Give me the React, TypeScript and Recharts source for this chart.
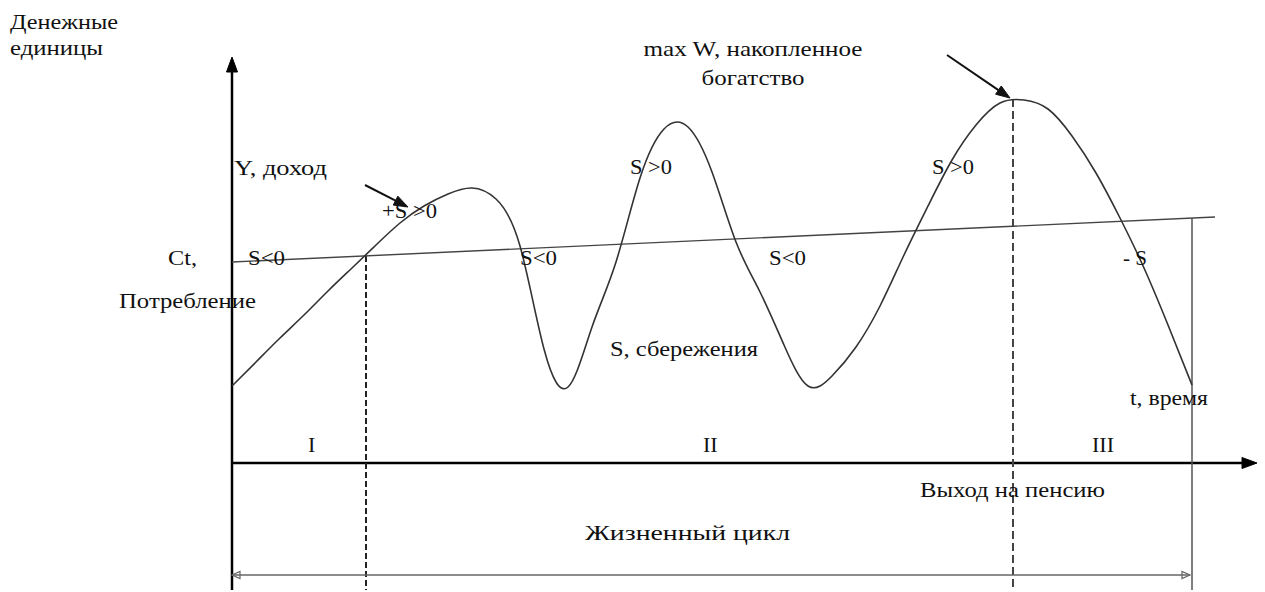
import React from "react";
import {
  ComposedChart,
  XAxis,
  YAxis,
  Line,
  Scatter,
  ReferenceLine,
} from "recharts";

// life-cycle income / consumption diagram (Modigliani)
// income Y every 24 time units
const incomeT = [0, 24, 48, 72, 96, 120, 144, 168, 192, 216, 240, 264, 288, 312, 336, 360, 384, 408, 432, 456, 480, 504, 528, 552, 576, 600, 624, 648, 672, 696, 720, 744, 768, 792, 816, 840, 864, 888, 912, 936, 960];
const incomeV = [77, 101, 125, 148, 172, 195, 218, 240, 257, 269, 275, 264, 217, 114, 76, 136, 201, 285, 334, 336, 291, 221, 171, 118, 77, 87, 116, 157, 208, 257, 303, 338, 360, 363, 354, 327, 290, 245, 195, 138, 78];

const consumptionT = [0, 983];
const consumptionV = [201, 246];

// key moments on the time axis
const tStart = 0;
const tWork = 134; // income crosses consumption
const tRetire = 781; // max wealth, retirement
const tEnd = 960;
const tAxisEnd = 1025;
const vAxisTop = 406;
const vBottom = -127;
const vCycle = -112;

const income = incomeT.map((t, i) => ({ t, v: incomeV[i] }));
const consumption = consumptionT.map((t, i) => ({ t, v: consumptionV[i] }));

type Note = { t: number; v: number; text: string; w?: number; anchor?: "start" | "middle" | "end" };

// w = printed width of the caption in the original
const notes: Note[] = [
  { t: -222, v: 434, text: "Денежные", w: 108 },
  { t: -222, v: 408, text: "единицы", w: 93 },
  { t: 521, v: 407, text: "max W, накопленное", w: 219, anchor: "middle" },
  { t: 521, v: 378, text: "богатство", w: 103, anchor: "middle" },
  { t: 2, v: 288, text: "Y, доход", w: 93 },
  { t: 150, v: 245, text: "+S >0", w: 55 },
  { t: 16, v: 198, text: "S<0", w: 37 },
  { t: -64, v: 198, text: "Ct,", w: 29 },
  { t: -113, v: 155, text: "Потребление", w: 137 },
  { t: 288, v: 198, text: "S<0", w: 37 },
  { t: 537, v: 198, text: "S<0", w: 37 },
  { t: 398, v: 289, text: "S >0", w: 42 },
  { t: 700, v: 289, text: "S >0", w: 42 },
  { t: 378, v: 107, text: "S, сбережения", w: 148 },
  { t: 891, v: 198, text: "- S", w: 24 },
  { t: 898, v: 58, text: "t, время", w: 78 },
  { t: 76, v: 11, text: "I" },
  { t: 471, v: 11, text: "II" },
  { t: 860, v: 11, text: "III" },
  { t: 688, v: -34, text: "Выход на пенсию", w: 185 },
  { t: 353, v: -77, text: "Жизненный цикл", w: 205 },
];

const FONT = "'Liberation Serif', 'Times New Roman', serif";

function head(tx: number, ty: number, fx: number, fy: number, len: number, half: number) {
  const dx = tx - fx;
  const dy = ty - fy;
  const d = Math.hypot(dx, dy) || 1;
  const ux = dx / d;
  const uy = dy / d;
  const bx = tx - ux * len;
  const by = ty - uy * len;
  return {
    pts: `${tx},${ty} ${bx - uy * half},${by + ux * half} ${bx + uy * half},${by - ux * half}`,
    bx,
    by,
  };
}

function arrow(color: string, width: number, len: number, half: number, both = false, open = false) {
  return (props: any) => {
    const { x1, y1, x2, y2 } = props;
    const h2 = head(x2, y2, x1, y1, len, half);
    const h1 = both ? head(x1, y1, x2, y2, len, half) : null;
    const sx = h1 && !open ? h1.bx : x1;
    const sy = h1 && !open ? h1.by : y1;
    const ex = open ? x2 : h2.bx;
    const ey = open ? y2 : h2.by;
    return (
      <g>
        <line x1={sx} y1={sy} x2={ex} y2={ey} stroke={color} strokeWidth={width} />
        <polygon
          points={h2.pts}
          fill={open ? "none" : color}
          stroke={color}
          strokeWidth={open ? 1.2 : 1}
        />
        {h1 && (
          <polygon
            points={h1.pts}
            fill={open ? "none" : color}
            stroke={color}
            strokeWidth={open ? 1.2 : 1}
          />
        )}
      </g>
    );
  };
}

const NoteShape = (p: any) => (
  <text
    x={p.cx}
    y={p.cy}
    textAnchor={p.payload.anchor || "start"}
    textLength={p.payload.w}
    lengthAdjust="spacingAndGlyphs"
    fontFamily={FONT}
    fontSize={22}
    fill="#111"
  >
    {p.payload.text}
  </text>
);

export default function App() {
  return (
    <div style={{ position: "absolute", left: 0, top: 0, background: "#fff" }}>
      <ComposedChart
        width={1265}
        height={592}
        margin={{ top: 0, right: 0, bottom: 0, left: 0 }}
      >
        <XAxis type="number" dataKey="t" domain={[-232, 1033]} allowDataOverflow hide />
        <YAxis type="number" dataKey="v" domain={[-129, 463]} allowDataOverflow hide />

        {/* axes */}
        <ReferenceLine
          segment={[{ x: tStart, y: vBottom }, { x: tStart, y: vAxisTop }]}
          shape={arrow("#000", 2.5, 15, 5.5)}
        />
        <ReferenceLine
          segment={[{ x: tStart, y: 0 }, { x: tAxisEnd, y: 0 }]}
          shape={arrow("#000", 2.5, 15, 5.5)}
        />

        {/* period boundaries */}
        <ReferenceLine
          segment={[{ x: tWork, y: 207 }, { x: tWork, y: vBottom }]}
          stroke="#222"
          strokeWidth={2}
          strokeDasharray="6 3"
        />
        <ReferenceLine
          segment={[{ x: tRetire, y: 364 }, { x: tRetire, y: vBottom }]}
          stroke="#444"
          strokeWidth={2}
          strokeDasharray="8 4"
        />
        <ReferenceLine
          segment={[{ x: tEnd, y: 245 }, { x: tEnd, y: vBottom }]}
          stroke="#555"
          strokeWidth={1.5}
        />
        <ReferenceLine
          segment={[{ x: tStart, y: vCycle }, { x: tEnd - 2, y: vCycle }]}
          shape={arrow("#666", 1.5, 8, 3.5, true, true)}
        />

        {/* pointers */}
        <ReferenceLine
          segment={[{ x: 133, y: 278 }, { x: 176, y: 256 }]}
          shape={arrow("#111", 2, 14, 5)}
        />
        <ReferenceLine
          segment={[{ x: 715, y: 408 }, { x: 778, y: 365 }]}
          shape={arrow("#111", 2, 14, 5)}
        />

        <Line
          data={consumption}
          dataKey="v"
          type="linear"
          stroke="#444"
          strokeWidth={1.4}
          dot={false}
          isAnimationActive={false}
        />
        <Line
          data={income}
          dataKey="v"
          type="natural"
          stroke="#333"
          strokeWidth={1.6}
          dot={false}
          isAnimationActive={false}
        />
        <Scatter data={notes} dataKey="v" shape={NoteShape} isAnimationActive={false} />
      </ComposedChart>
    </div>
  );
}
